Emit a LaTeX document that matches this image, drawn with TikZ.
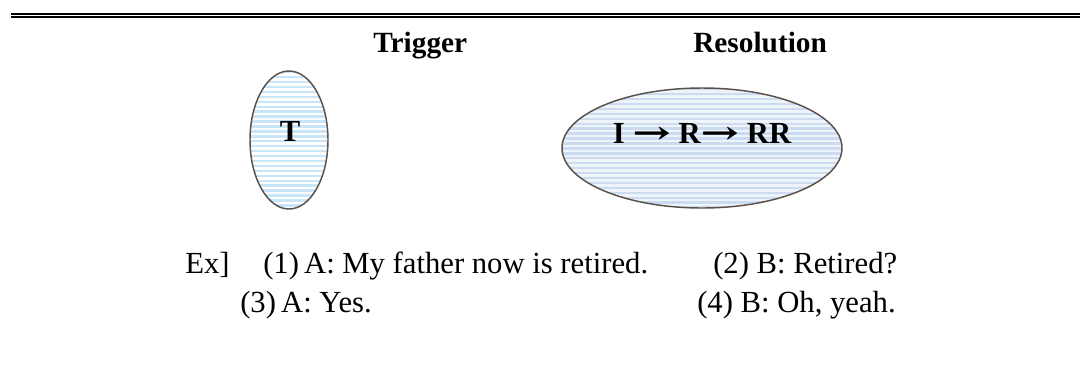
\documentclass[tikz,border=0pt]{standalone}
\usepackage{fontspec}
\setmainfont{Liberation Serif}
\newfontfamily\arrowfont{DejaVu Serif}
\usetikzlibrary{shapes.geometric,calc}
\definecolor{rimbrown}{HTML}{5B514B}
\definecolor{stripeblue}{HTML}{C9E6F8}
\definecolor{stripesoft}{HTML}{CBDCF0}
\definecolor{groundsoft}{HTML}{EEF4FA}
\newcommand{\stepto}{\scalebox{1.5}[1]{\arrowfont\bfseries →}}
\tikzset{
    stage/.style={
        ellipse, draw=rimbrown, line width=1.1pt, inner sep=0pt
    },
    striped/.style 2 args={
        path picture={
            \fill[#1] (path picture bounding box.south west)
                rectangle (path picture bounding box.north east);
            \foreach \k in {0,...,45}{
                \fill[#2]
                ([yshift=-\k*3.7pt]path picture bounding box.north west)
                rectangle
                ([yshift=-\k*3.7pt-1.8pt]path picture bounding box.north east);
            }
        }
    },
    heading/.style={anchor=base west, inner sep=0pt, font=\fontsize{22}{26}\selectfont\bfseries},
    mark text/.style={inner sep=0pt, font=\fontsize{23}{27}\selectfont\bfseries},
    turn/.style={anchor=base west, inner sep=0pt, font=\fontsize{23}{27}\selectfont}
}
\begin{document}
\begin{tikzpicture}[x=0.75pt,y=-0.75pt]
\useasboundingbox (0,0) rectangle (1080,369);
% double rule on top
\coordinate (ruleA) at (11,14);
\coordinate (ruleB) at (1080,14);
\coordinate (ruleC) at (11,16.9);
\coordinate (ruleD) at (1080,16.9);
\draw[line width=2.2pt] (ruleA) -- (ruleB);
\draw[line width=1.1pt] (ruleC) -- (ruleD);
% headings
\node[heading] (trigTitle) at (373,52) {Trigger};
\node[heading] (resoTitle) at (693,52) {Resolution};
% the two stages
\node[stage, striped={white}{stripeblue}, minimum width=78*0.75pt, minimum height=138*0.75pt] (trig) at (289,140) {};
\node[mark text] (trigMark) at (290,131) {T};
\node[stage, striped={groundsoft}{stripesoft}, minimum width=280*0.75pt, minimum height=120*0.75pt] (reso) at (702,148) {};
\node[mark text] (resoMark) at (702,133) {I \stepto\ R\stepto\ RR};
% example
\node[turn] (exTag) at (185,273) {Ex]};
\node[turn] (turnA) at (263,273) {(1)\,A: My father now is retired.};
\node[turn] (turnB) at (713,273) {(2) B: Retired?};
\node[turn] (turnC) at (240,312) {(3)\,A: Yes.};
\node[turn] (turnD) at (697,312) {(4) B: Oh, yeah.};
\end{tikzpicture}
\end{document}
